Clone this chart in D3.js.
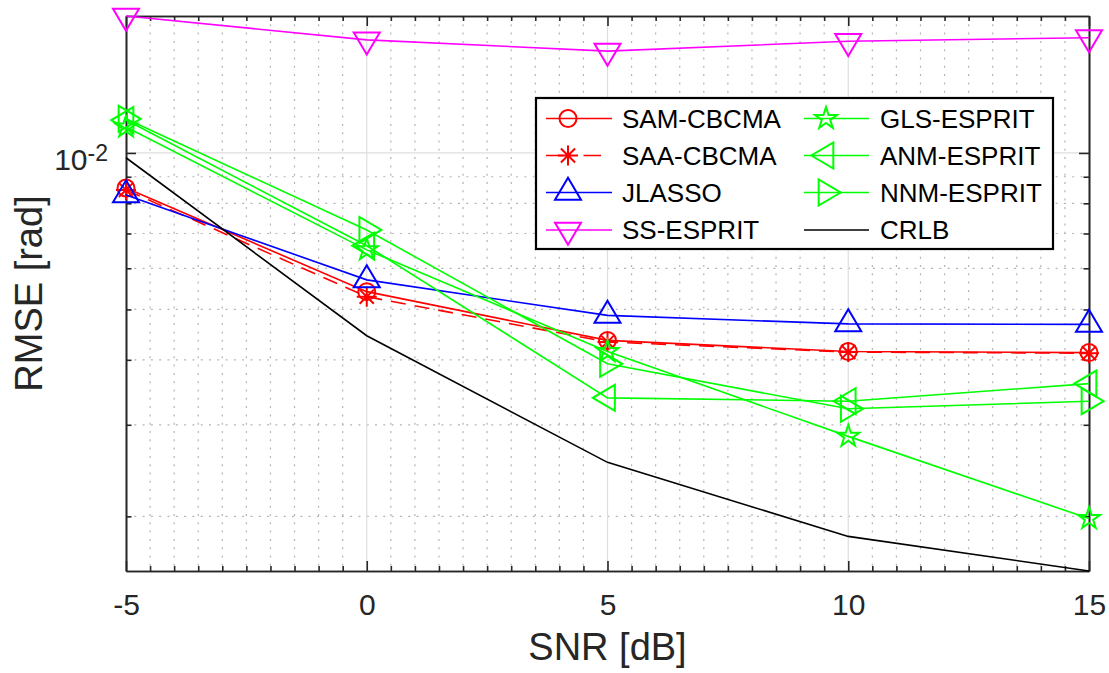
<!DOCTYPE html>
<html>
<head>
<meta charset="utf-8">
<script src="https://cdn.jsdelivr.net/npm/d3@7"></script>
<style>
    body { margin: 0; background: #fff; }
    text { font-family: "Liberation Sans", Arial, Helvetica, sans-serif; }
</style>
</head>
<body>
<svg id="chart" width="1109" height="673"></svg>
<script>
// values (RMSE in rad, log axis)
const snr = [-5, 0, 5, 10, 15];
const samCbcma = [0.00856, 0.00541, 0.00436, 0.00415, 0.00413];
const saaCbcma = [0.00849, 0.00529, 0.00433, 0.00414, 0.00412];
const jlasso = [0.00830, 0.00570, 0.00487, 0.00469, 0.00468];
const ssEsprit = [0.01834, 0.0165, 0.0157, 0.0164, 0.01666];
const glsEsprit = [0.01122, 0.00651, 0.00415, 0.00285, 0.00198];
const anmEsprit = [0.01157, 0.00663, 0.00338, 0.00333, 0.00360];
const nnmEsprit = [0.01163, 0.00711, 0.00393, 0.00322, 0.00333];
const crlb = [0.00979, 0.00445, 0.00254, 0.00183, 0.00157];

const xMajorTicks = [-5, 0, 5, 10, 15];
const yMajorTicks = [0.01];
const yMinorTicks = [0.002, 0.003, 0.004, 0.005, 0.006, 0.007, 0.008, 0.009];

const series = [
    {name: "SAM-CBCMA", values: samCbcma, color: "#ff0000", marker: "circle"},
    {name: "SAA-CBCMA", values: saaCbcma, color: "#ff0000", marker: "asterisk", dash: "15,9"},
    {name: "JLASSO", values: jlasso, color: "#0000ff", marker: "up"},
    {name: "SS-ESPRIT", values: ssEsprit, color: "#ff00ff", marker: "down"},
    {name: "GLS-ESPRIT", values: glsEsprit, color: "#00ff00", marker: "star"},
    {name: "ANM-ESPRIT", values: anmEsprit, color: "#00ff00", marker: "left"},
    {name: "NNM-ESPRIT", values: nnmEsprit, color: "#00ff00", marker: "right"},
    {name: "CRLB", values: crlb, color: "#000000", marker: null}
];

const plot = {left: 126, right: 1089, top: 16, bottom: 571};
const axisColor = "#262626";

const x = d3.scaleLinear()
    .domain([-5, 15])
    .range([plot.left, plot.right]);

const allValues = series.flatMap(s => s.values);
const y = d3.scaleLog()
    .domain(d3.extent(allValues))
    .range([plot.bottom, plot.top]);

const xMinorTicks = d3.range(-5, 15.001, 0.5).filter(v => !xMajorTicks.includes(v));

const svg = d3.select("#chart");

// grid
const grid = svg.append("g").attr("class", "grid");
grid.selectAll("line.minor-x")
    .data(xMinorTicks)
    .enter().append("line")
    .attr("x1", d => x(d)).attr("x2", d => x(d))
    .attr("y1", plot.top).attr("y2", plot.bottom)
    .attr("stroke", "#b4b4b4").attr("stroke-width", 1.2)
    .attr("stroke-dasharray", "2,6.3");
grid.selectAll("line.minor-y")
    .data(yMinorTicks)
    .enter().append("line")
    .attr("x1", plot.left).attr("x2", plot.right)
    .attr("y1", d => y(d)).attr("y2", d => y(d))
    .attr("stroke", "#b4b4b4").attr("stroke-width", 1.2)
    .attr("stroke-dasharray", "2,6.3");
grid.selectAll("line.major-x")
    .data(xMajorTicks.slice(1, -1))
    .enter().append("line")
    .attr("x1", d => x(d)).attr("x2", d => x(d))
    .attr("y1", plot.top).attr("y2", plot.bottom)
    .attr("stroke", "#dedede").attr("stroke-width", 1.2);
grid.selectAll("line.major-y")
    .data(yMajorTicks)
    .enter().append("line")
    .attr("x1", plot.left).attr("x2", plot.right)
    .attr("y1", d => y(d)).attr("y2", d => y(d))
    .attr("stroke", "#dedede").attr("stroke-width", 1.2);

// axes (ticks pointing inwards, box on)
function styleAxis(g) {
    g.select(".domain").attr("stroke", axisColor).attr("stroke-width", 1.6);
    g.selectAll(".tick line").attr("stroke", axisColor).attr("stroke-width", 1.6);
    g.selectAll(".tick text").attr("fill", axisColor);
}

const xAxis = d3.axisBottom(x)
    .tickValues(xMajorTicks)
    .tickSizeInner(-10).tickSizeOuter(0).tickPadding(23)
    .tickFormat(d => String(d));
svg.append("g")
    .attr("transform", "translate(0," + plot.bottom + ")")
    .call(xAxis)
    .call(styleAxis)
    .call(g => g.selectAll(".tick text").attr("font-size", 30).attr("font-family", null));

svg.append("g")
    .attr("transform", "translate(0," + plot.bottom + ")")
    .call(d3.axisBottom(x).tickValues(xMinorTicks).tickSizeInner(-5).tickSizeOuter(0).tickFormat(""))
    .call(styleAxis);

svg.append("g")
    .attr("transform", "translate(0," + plot.top + ")")
    .call(d3.axisTop(x).tickValues(xMajorTicks).tickSizeInner(-10).tickSizeOuter(0).tickFormat(""))
    .call(styleAxis);
svg.append("g")
    .attr("transform", "translate(0," + plot.top + ")")
    .call(d3.axisTop(x).tickValues(xMinorTicks).tickSizeInner(-5).tickSizeOuter(0).tickFormat(""))
    .call(styleAxis);

const yAxis = d3.axisLeft(y)
    .tickValues(yMajorTicks)
    .tickSizeInner(-10).tickSizeOuter(0).tickPadding(18)
    .tickFormat(() => "10");
svg.append("g")
    .attr("transform", "translate(" + plot.left + ",0)")
    .call(yAxis)
    .call(styleAxis)
    .call(g => {
        const t = g.selectAll(".tick text")
            .attr("font-size", 30).attr("font-family", null)
            .attr("dy", null).attr("y", 17);
        t.append("tspan")
            .attr("dy", -9)
            .attr("font-size", 23)
            .text("-2");
    });
svg.append("g")
    .attr("transform", "translate(" + plot.left + ",0)")
    .call(d3.axisLeft(y).tickValues(yMinorTicks).tickSizeInner(-5.5).tickSizeOuter(0).tickFormat(""))
    .call(styleAxis);

svg.append("g")
    .attr("transform", "translate(" + plot.right + ",0)")
    .call(d3.axisRight(y).tickValues(yMajorTicks).tickSizeInner(-10).tickSizeOuter(0).tickFormat(""))
    .call(styleAxis);
svg.append("g")
    .attr("transform", "translate(" + plot.right + ",0)")
    .call(d3.axisRight(y).tickValues(yMinorTicks).tickSizeInner(-5.5).tickSizeOuter(0).tickFormat(""))
    .call(styleAxis);

// axis labels
svg.append("text")
    .attr("x", (plot.left + plot.right) / 2)
    .attr("y", 660)
    .attr("text-anchor", "middle")
    .attr("font-size", 38)
    .attr("fill", axisColor)
    .text("SNR [dB]");

svg.append("text")
    .attr("transform", "translate(42," + (plot.top + plot.bottom) / 2 + ") rotate(-90)")
    .attr("text-anchor", "middle")
    .attr("font-size", 38)
    .attr("fill", axisColor)
    .text("RMSE [rad]");

// marker shapes, centred on the data point
function markerPath(type) {
    const w = 26, h = 22;
    switch (type) {
        case "circle":
            return d3.symbol(d3.symbolCircle, Math.PI * 8.5 * 8.5)();
        case "asterisk": {
            const r = 10, d = r * Math.SQRT1_2;
            return `M${-r},0L${r},0M0,${-r}L0,${r}M${-d},${-d}L${d},${d}M${-d},${d}L${d},${-d}`;
        }
        case "up":
            return `M0,${-2 * h / 3}L${w / 2},${h / 3}L${-w / 2},${h / 3}Z`;
        case "down":
            return `M0,${2 * h / 3}L${w / 2},${-h / 3}L${-w / 2},${-h / 3}Z`;
        case "left":
            return `M${-2 * h / 3},0L${h / 3},${w / 2}L${h / 3},${-w / 2}Z`;
        case "right":
            return `M${2 * h / 3},0L${-h / 3},${w / 2}L${-h / 3},${-w / 2}Z`;
        case "star": {
            const R = 11.5, ri = R * 0.382;
            const pts = d3.range(10).map(i => {
                const a = -Math.PI / 2 + i * Math.PI / 5;
                const rr = i % 2 === 0 ? R : ri;
                return [rr * Math.cos(a), rr * Math.sin(a)];
            });
            return "M" + pts.map(p => p.join(",")).join("L") + "Z";
        }
    }
    return null;
}

const line = d3.line()
    .x(d => x(d[0]))
    .y(d => y(d[1]));

const dataLayer = svg.append("g").attr("class", "series");
series.forEach(s => {
    const pts = snr.map((v, i) => [v, s.values[i]]);
    const g = dataLayer.append("g");
    g.append("path")
        .datum(pts)
        .attr("d", line)
        .attr("fill", "none")
        .attr("stroke", s.color)
        .attr("stroke-width", 1.6)
        .attr("stroke-dasharray", s.dash || null);
    if (s.marker) {
        g.selectAll("path.marker")
            .data(pts)
            .enter().append("path")
            .attr("class", "marker")
            .attr("transform", d => "translate(" + x(d[0]) + "," + y(d[1]) + ")")
            .attr("d", markerPath(s.marker))
            .attr("fill", "none")
            .attr("stroke", s.color)
            .attr("stroke-width", 2);
    }
});

// legend
const legend = svg.append("g").attr("class", "legend");
legend.append("rect")
    .attr("x", 536).attr("y", 98)
    .attr("width", 517).attr("height", 151)
    .attr("fill", "#fff")
    .attr("stroke", "#000")
    .attr("stroke-width", 2.2);

const legendCols = [
    {lineX1: 546, lineX2: 612, markerX: 568, textX: 622},
    {lineX1: 804, lineX2: 869, markerX: 826, textX: 880}
];
const legendRows = [118.5, 155.5, 192.5, 230];

series.forEach((s, i) => {
    const col = legendCols[Math.floor(i / 4)];
    const ry = legendRows[i % 4];
    const g = legend.append("g");
    g.append("line")
        .attr("x1", col.lineX1).attr("x2", col.lineX2)
        .attr("y1", ry).attr("y2", ry)
        .attr("stroke", s.color)
        .attr("stroke-width", 1.6)
        .attr("stroke-dasharray", s.dash ? "17.5,20" : null);
    if (s.marker) {
        g.append("path")
            .attr("transform", "translate(" + col.markerX + "," + ry + ")")
            .attr("d", markerPath(s.marker))
            .attr("fill", "none")
            .attr("stroke", s.color)
            .attr("stroke-width", 2);
    }
    g.append("text")
        .attr("x", col.textX)
        .attr("y", ry)
        .attr("dy", "0.36em")
        .attr("font-size", 26)
        .attr("fill", "#000")
        .text(s.name);
});
</script>
</body>
</html>
